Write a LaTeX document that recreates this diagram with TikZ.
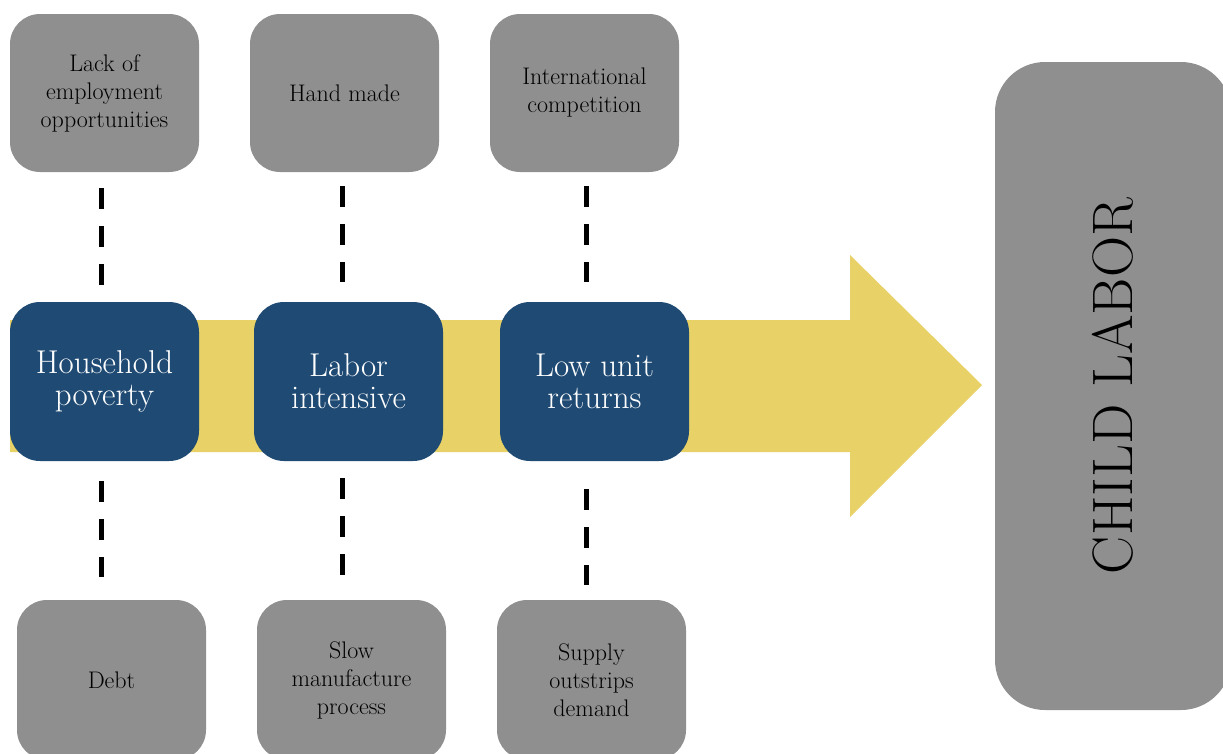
\documentclass[tikz,border=0pt]{standalone}
\definecolor{boxgray}{HTML}{8F8F8F}
\definecolor{boxblue}{HTML}{1F4A73}
\definecolor{arrowyellow}{HTML}{E8D166}
\begin{document}
\begin{tikzpicture}[x=1pt,y=-1pt,
  graybox/.style={fill=boxgray,rounded corners=30pt,minimum width=189pt,minimum height=158pt,
    align=center,text=black,font=\fontsize{24}{28}\selectfont,inner sep=0pt},
  bluebox/.style={fill=boxblue,rounded corners=30pt,minimum width=189pt,minimum height=159pt,
    align=center,text=white,font=\fontsize{33}{32}\selectfont,inner sep=0pt},
  dashline/.style={line width=5pt,dash pattern=on 21pt off 17pt,black}]
\useasboundingbox (0,0) rectangle (1223,753);
\clip (0,0) rectangle (1223,753);
% big arrow
\fill[arrowyellow] (10,320) -- (850,320) -- (850,255) -- (982,385) -- (850,517) -- (850,452) -- (10,452) -- cycle;
% top boxes
\node[graybox] (t1) at (104.5,93) {Lack of\\employment\\opportunities};
\node[graybox] (t2) at (344.5,93) {Hand made};
\node[graybox] (t3) at (584.5,93) {International\\competition};
% blue boxes
\node[bluebox] (h1) at (104.5,381.5) {Household\\poverty};
\node[bluebox] (h2) at (348.5,381.5) {Labor\\intensive};
\node[bluebox] (h3) at (594.5,381.5) {Low unit\\returns};
% bottom boxes
\node[graybox,minimum height=160pt] (b1) at (111.5,680) {Debt};
\node[graybox,minimum height=160pt] (b2) at (351.5,680) {Slow\\manufacture\\process};
\node[graybox,minimum height=160pt] (b3) at (591.5,680) {Supply\\outstrips\\demand};
% child labor
\node[fill=boxgray,rounded corners=50pt,minimum width=236pt,minimum height=648pt,inner sep=0pt] (cl) at (1113,386) {};
\node[rotate=90,font=\fontsize{57}{57}\selectfont,text=black] (clt) at (cl.center) {CHILD LABOR};
% dashed connectors
\draw[dashline] ([xshift=-3.5pt,yshift=-16pt]t1.south) -- ([xshift=-3.5pt,yshift=17pt]t1.south |- h1.north);
\draw[dashline] ([xshift=-2.5pt,yshift=-14pt]t2.south) -- ([xshift=-2.5pt,yshift=20pt]t2.south |- h2.north);
\draw[dashline] ([xshift=1.5pt,yshift=-14pt]t3.south) -- ([xshift=1.5pt,yshift=20pt]t3.south |- h3.north);
\draw[dashline] ([xshift=-3.5pt,yshift=-20pt]h1.south) -- ([xshift=-3.5pt,yshift=23pt]h1.south |- b1.north);
\draw[dashline] ([xshift=-6.5pt,yshift=-17pt]h2.south) -- ([xshift=-6.5pt,yshift=25pt]h2.south |- b2.north);
\draw[dashline] ([xshift=-8.5pt,yshift=-28pt]h3.south) -- ([xshift=-8.5pt,yshift=15pt]h3.south |- b3.north);
\end{tikzpicture}
\end{document}
